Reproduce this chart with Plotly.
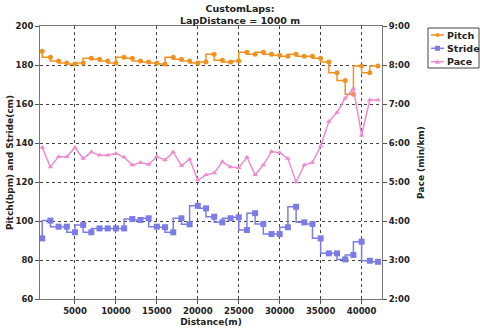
import plotly.graph_objects as go

distance = [1000, 2000, 3000, 4000, 5000, 6000, 7000, 8000, 9000, 10000,
            11000, 12000, 13000, 14000, 15000, 16000, 17000, 18000, 19000, 20000,
            21000, 22000, 23000, 24000, 25000, 26000, 27000, 28000, 29000, 30000,
            31000, 32000, 33000, 34000, 35000, 36000, 37000, 38000, 39000, 40000,
            41000, 42000]
pitch = [187, 184, 182, 181, 180.5, 181, 183.5, 183, 182, 181,
         184, 183.5, 182, 181.5, 181, 180.5, 184, 183, 182, 181,
         181.5, 185.5, 182.5, 181.5, 182, 186.5, 185.5, 186.5, 185.5, 185,
         184.5, 185.5, 184.5, 184.5, 183.5, 181.5, 176, 172, 165, 179.5,
         176, 179.5]
stride = [91.1, 100.2, 97.1, 97.1, 94.2, 98, 94.2, 96.2, 96.2, 96.2,
          96.2, 101, 100.5, 101.4, 97.1, 96.8, 94.2, 101.4, 98.3, 107.8,
          106.5, 102.2, 99.3, 101.4, 101.9, 95.4, 104, 98.5, 93.3, 93.3,
          96.8, 107.3, 99.3, 98.5, 91.1, 83.4, 83.4, 80.3, 82.6, 89.4,
          79.6, 79.1]
pace_sec = [353, 323, 339, 339, 353, 336, 346, 341, 341, 344,
            338, 326, 330, 327, 339, 334, 346, 325, 335, 303,
            311, 314, 331, 323, 322, 338, 311, 326, 347, 345,
            336, 300, 326, 330, 355, 393, 407, 429, 444, 372,
            426, 426]
x_ticks = [5000, 10000, 15000, 20000, 25000, 30000, 35000, 40000]
x_labels = ["5000", "10000", "15000", "20000", "25000", "30000", "35000", "40000"]
pace_ticks = [120, 180, 240, 300, 360, 420, 480, 540]
pace_labels = ["2:00", "3:00", "4:00", "5:00", "6:00", "7:00", "8:00", "9:00"]
series_names = ["Pitch", "Stride", "Pace"]

c_pitch = "#F0921F"
c_stride = "#7C7CE6"
c_pace = "#EE8CCF"
colors = [c_pitch, c_stride, c_pace]
font = "DejaVu Sans"
txt = "#222222"

# plot area in pixels
L, R, T, B = 40, 382, 26, 299
W, H = 480, 329


def px(xp):
    return (xp - L) / (R - L)


def py(yp):
    return (B - yp) / (B - T)


fig = go.Figure()
fig.add_trace(go.Scatter(x=distance, y=pitch, name=series_names[0], mode="lines+markers",
                         line=dict(color=c_pitch, width=1.5, shape="vh"),
                         marker=dict(symbol="circle", size=5, color=c_pitch)))
fig.add_trace(go.Scatter(x=distance, y=stride, name=series_names[1], mode="lines+markers",
                         line=dict(color=c_stride, width=1.5, shape="vh"),
                         marker=dict(symbol="square", size=6, color=c_stride)))
fig.add_trace(go.Scatter(x=distance, y=pace_sec, name=series_names[2], mode="lines+markers",
                         yaxis="y2",
                         line=dict(color=c_pace, width=1.5),
                         marker=dict(symbol="triangle-up", size=5, color=c_pace)))

tfont = dict(family=font, size=8.5, color=txt, weight="bold")
axis_common = dict(showline=True, linecolor="#777777", linewidth=1,
                   ticks="outside", ticklen=4, tickcolor="#555555",
                   tickfont=tfont, zeroline=False)

# custom compact legend (box, sample lines, symbols, labels)
shapes = [dict(type="rect", xref="paper", yref="paper",
               x0=px(428), x1=px(479), y0=py(68), y1=py(28),
               line=dict(color="#444444", width=1), fillcolor="white", layer="above")]
annotations = []
rows = [35, 48.3, 61.7]
for name, col, yy, sym in zip(series_names, colors, rows, ["circle", "square", "tri"]):
    shapes.append(dict(type="line", xref="paper", yref="paper",
                       x0=px(431), x1=px(444), y0=py(yy), y1=py(yy),
                       line=dict(color=col, width=1.5), layer="above"))
    if sym == "circle":
        shapes.append(dict(type="circle", xref="paper", yref="paper",
                           x0=px(435.5), x1=px(439.5), y0=py(yy + 2), y1=py(yy - 2),
                           line=dict(color=col, width=0), fillcolor=col, layer="above"))
    elif sym == "square":
        shapes.append(dict(type="rect", xref="paper", yref="paper",
                           x0=px(435), x1=px(440), y0=py(yy + 2.5), y1=py(yy - 2.5),
                           line=dict(color=col, width=0), fillcolor=col, layer="above"))
    else:
        shapes.append(dict(type="path", xref="paper", yref="paper",
                           path="M {} {} L {} {} L {} {} Z".format(px(435), py(yy + 2), px(440), py(yy + 2), px(437.5), py(yy - 2.5)),
                           line=dict(color=col, width=0), fillcolor=col, layer="above"))
    annotations.append(dict(text=name, xref="paper", yref="paper", x=px(444.5), y=py(yy),
                            xanchor="left", yanchor="middle", showarrow=False,
                            font=dict(family=font, size=9.5, color=txt, weight="bold")))

annotations.append(dict(text="CustomLaps:<br>LapDistance = 1000 m", xref="paper", yref="paper",
                        x=px(240), y=py(1), xanchor="center", yanchor="top", showarrow=False,
                        font=dict(family=font, size=9.5, color=txt, weight="bold")))

fig.update_layout(
    width=W, height=H,
    margin=dict(l=L, r=W - R, t=T, b=H - B, autoexpand=False),
    paper_bgcolor="white", plot_bgcolor="white",
    font=dict(family=font, size=9, color=txt),
    showlegend=False,
    shapes=shapes,
    annotations=annotations,
    xaxis=dict(range=[730, 42490], tickvals=x_ticks, ticktext=x_labels,
               showgrid=True, gridcolor="#444444", griddash="dot", gridwidth=1,
               title=dict(text="Distance(m)", standoff=3, font=dict(family=font, size=9, weight="bold")),
               mirror=True, **axis_common),
    yaxis=dict(range=[60, 200], dtick=20, showgrid=True, gridcolor="#444444", griddash="dot",
               gridwidth=1,
               title=dict(text="Pitch(bpm) and Stride(cm)", standoff=0,
                          font=dict(family=font, size=9, weight="bold")),
               **axis_common),
    yaxis2=dict(range=[120, 540], tickvals=pace_ticks, ticktext=pace_labels, overlaying="y",
                side="right", showgrid=False,
                title=dict(text="Pace (min/km)", standoff=8, font=dict(family=font, size=9, weight="bold")),
                **axis_common),
)

fig.write_html("out.html")
